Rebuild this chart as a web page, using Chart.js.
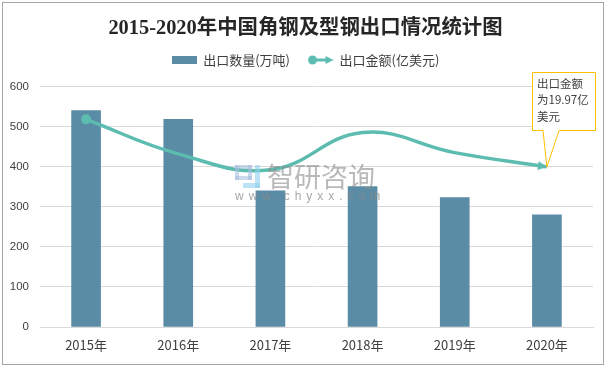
<!DOCTYPE html>
<html lang="zh">
<head>
<meta charset="UTF-8">
<title>2015-2020年中国角钢及型钢出口情况统计图</title>
<script src="https://cdn.jsdelivr.net/npm/chart.js@4/dist/chart.umd.min.js"></script>
<style>
    html, body { margin: 0; padding: 0; background: #fff; }
    #wrap { position: relative; width: 611px; height: 367px; }
    #frame { position: absolute; left: 2px; top: 2px; width: 600px; height: 361px; border: 1px solid #a6a6a6; pointer-events: none; }
</style>
</head>
<body>
<div id="wrap">
    <canvas id="myChart" width="611" height="367"></canvas>
    <div id="frame"></div>
</div>
<script>
    const anos = ['2015年', '2016年', '2017年', '2018年', '2019年', '2020年'];
    const quantidade = [540, 518, 340, 350, 323, 280];
    const valor = [25.9, 21.6, 19.6, 24.25, 21.75, 19.97];
    const nomeBarra = '出口数量(万吨)';
    const nomeLinha = '出口金额(亿美元)';
    const titulo = '2015-2020年中国角钢及型钢出口情况统计图';
    const textoCaixa = ['出口金额', '为19.97亿', '美元'];

    const corBarra = '#5b8ca6';
    const corLinha = '#5cbcb0';
    const fonte = '"Noto Sans CJK SC", "Liberation Sans", sans-serif';

    // simbolos da legenda
    function iconeBarra() {
        const c = document.createElement('canvas');
        c.width = 25; c.height = 8;
        const g = c.getContext('2d');
        g.fillStyle = corBarra;
        g.fillRect(0, 0, 25, 8);
        return c;
    }

    function iconeLinha() {
        const c = document.createElement('canvas');
        c.width = 26; c.height = 12;
        const g = c.getContext('2d');
        g.strokeStyle = corLinha;
        g.fillStyle = corLinha;
        g.lineWidth = 3;
        g.beginPath(); g.moveTo(5, 6); g.lineTo(20, 6); g.stroke();
        g.beginPath(); g.arc(5, 6, 4.5, 0, Math.PI * 2); g.fill();
        g.beginPath(); g.moveTo(26, 6); g.lineTo(18, 2); g.lineTo(18, 10); g.closePath(); g.fill();
        return c;
    }

    // seta com a ponta no centro, para terminar em cima do ponto
    function iconeSeta() {
        const c = document.createElement('canvas');
        c.width = 20; c.height = 20;
        const g = c.getContext('2d');
        g.fillStyle = corLinha;
        g.beginPath(); g.moveTo(10, 10); g.lineTo(1, 5.5); g.lineTo(1, 14.5); g.closePath(); g.fill();
        return c;
    }

    const seta = iconeSeta();

    // o eixo y corta os rotulos na propria caixa, entao abre a caixa ate a borda
    const eixoPlugin = {
        id: 'eixo',
        afterLayout(chart) {
            chart.scales.y.left = 0;
        }
    };

    const caixaPlugin = {
        id: 'caixa',
        afterDraw(chart) {
            const ctx = chart.ctx;
            const tipX = chart.scales.x.getPixelForValue(5);
            const tipY = chart.scales.y1.getPixelForValue(valor[5]);
            ctx.save();
            ctx.beginPath();
            ctx.moveTo(532.5, 72.5);
            ctx.lineTo(595.5, 72.5);
            ctx.lineTo(595.5, 130.5);
            ctx.lineTo(559, 130.5);
            ctx.lineTo(tipX, tipY);
            ctx.lineTo(543, 130.5);
            ctx.lineTo(532.5, 130.5);
            ctx.closePath();
            ctx.fillStyle = '#fff';
            ctx.fill();
            ctx.strokeStyle = '#ffc000';
            ctx.lineWidth = 1;
            ctx.stroke();
            ctx.fillStyle = '#404040';
            ctx.font = '11.5px ' + fonte;
            ctx.textBaseline = 'middle';
            textoCaixa.forEach(function (t, i) {
                ctx.fillText(t, 537, 83.5 + i * 16.5);
            });
            ctx.restore();
        }
    };

    const marcaPlugin = {
        id: 'marca',
        afterDatasetsDraw(chart) {
            const ctx = chart.ctx;
            ctx.save();
            ctx.globalAlpha = 0.6;
            // logo
            ctx.fillStyle = '#a9bfe0';
            ctx.fillRect(235, 165, 17, 4);
            ctx.fillRect(235, 165, 4, 15);
            ctx.fillRect(235, 176, 17, 4);
            ctx.fillRect(248, 165, 4, 15);
            ctx.fillStyle = '#8fd0ef';
            ctx.fillRect(255, 165, 5, 23);
            ctx.fillRect(243, 183, 17, 5);
            ctx.fillStyle = '#8a8a8a';
            ctx.font = '27px ' + fonte;
            ctx.textBaseline = 'middle';
            ctx.fillText('智研咨询', 267, 177);
            ctx.globalAlpha = 0.75;
            ctx.font = '12px "Liberation Sans", sans-serif';
            ctx.letterSpacing = '5px';
            ctx.fillText('www.chyxx.com', 235, 197);
            ctx.restore();
        }
    };

    new Chart(document.getElementById('myChart'), {
        data: {
            labels: anos,
            datasets: [
                {
                    type: 'line',
                    label: nomeLinha,
                    data: valor,
                    yAxisID: 'y1',
                    borderColor: corLinha,
                    backgroundColor: corLinha,
                    borderWidth: 3.5,
                    tension: 0.42,
                    order: 1,
                    pointStyle: function (c) {
                        if (c.dataIndex === 0) return 'circle';
                        if (c.dataIndex === anos.length - 1) return seta;
                        return false;
                    },
                    pointRadius: 5,
                    pointRotation: 8,
                    pointBackgroundColor: corLinha,
                    pointBorderWidth: 0
                },
                {
                    type: 'bar',
                    label: nomeBarra,
                    data: quantidade,
                    yAxisID: 'y',
                    backgroundColor: corBarra,
                    barThickness: 29,
                    order: 2
                }
            ]
        },
        options: {
            responsive: false,
            animation: false,
            layout: { padding: { left: 18, right: 18, top: 14, bottom: 0 } },
            scales: {
                x: {
                    grid: { display: false, drawTicks: false },
                    border: { color: '#d9d9d9' },
                    ticks: { color: '#404040', font: { family: fonte, size: 13 }, padding: 10 },
                    afterFit: function (s) { s.height = 40; }
                },
                // eixo vazio so para dar espaco entre a legenda e o grafico
                x2: {
                    type: 'category',
                    position: 'top',
                    grid: { display: false, drawTicks: false },
                    border: { display: false },
                    ticks: { display: false },
                    afterFit: function (s) { s.height = 10; }
                },
                y: {
                    min: 0,
                    max: 600,
                    grid: { color: '#d9d9d9', drawTicks: false },
                    border: { display: false },
                    ticks: { stepSize: 100, color: '#404040', font: { family: '"Liberation Sans", sans-serif', size: 11.5 }, padding: 11 },
                    afterFit: function (s) { s.width = 22; }
                },
                y1: { display: false, min: 0, max: 30 }
            },
            plugins: {
                tooltip: { enabled: false },
                title: {
                    display: true,
                    text: titulo,
                    color: '#262626',
                    font: { family: '"Liberation Serif", "Noto Sans CJK SC", serif', size: 20.4, weight: 'bold' },
                    padding: { top: 2, bottom: -5 }
                },
                legend: {
                    display: true,
                    position: 'top',
                    onClick: null,
                    labels: {
                        color: '#404040',
                        font: { family: fonte, size: 13 },
                        usePointStyle: true,
                        pointStyleWidth: 25,
                        boxHeight: 12,
                        padding: 18,
                        generateLabels: function () {
                            return [
                                { text: nomeBarra, pointStyle: iconeBarra(), fontColor: '#404040', lineWidth: 0, strokeStyle: 'transparent', fillStyle: corBarra },
                                { text: nomeLinha, pointStyle: iconeLinha(), fontColor: '#404040', lineWidth: 0, strokeStyle: 'transparent', fillStyle: corLinha }
                            ];
                        }
                    }
                }
            }
        },
        plugins: [eixoPlugin, marcaPlugin, caixaPlugin]
    });
</script>
</body>
</html>
